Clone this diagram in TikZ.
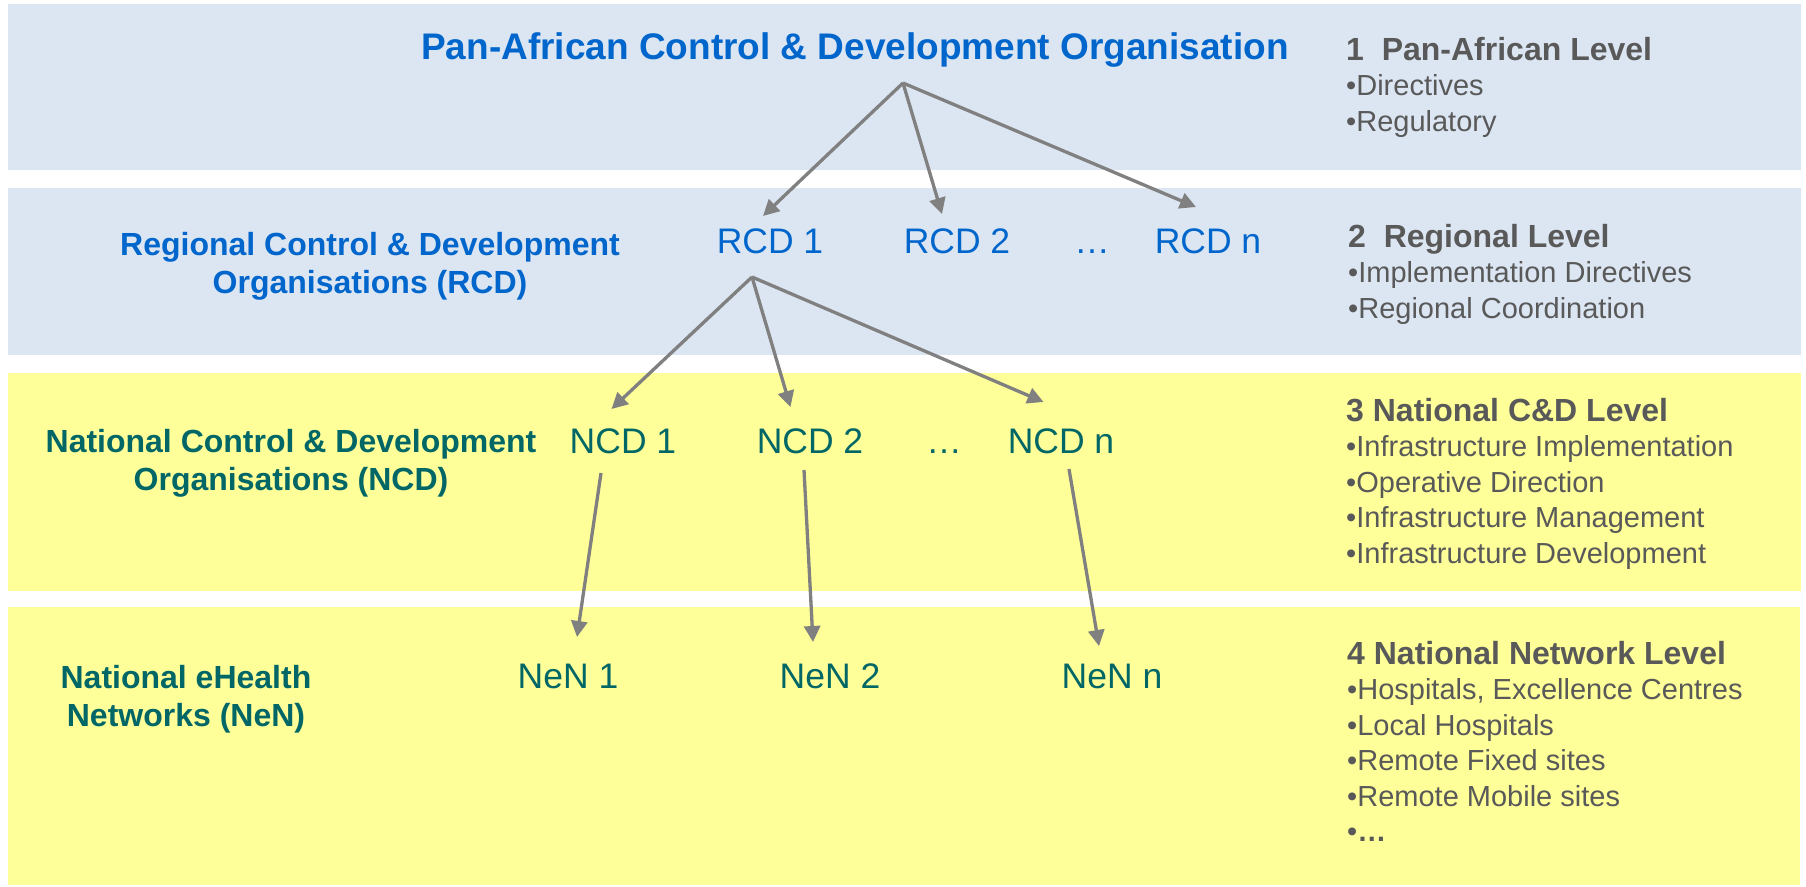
\documentclass[tikz,border=0pt]{standalone}
\usepackage{fontspec}
\setmainfont{Liberation Sans}
\usetikzlibrary{arrows.meta}
\definecolor{bandblue}{HTML}{DCE6F2}
\definecolor{bandyellow}{HTML}{FFFF99}
\definecolor{txtblue}{HTML}{0066CC}
\definecolor{txtteal}{HTML}{006666}
\definecolor{txtgray}{HTML}{595959}
\definecolor{arrowgray}{HTML}{808080}
\newcommand{\lvltitle}[1]{{\bfseries\fontsize{32}{35.5}\selectfont #1}}
\begin{document}
\begin{tikzpicture}[x=1pt,y=-1pt,
  band/.style={fill=#1, draw=none},
  unit/.style={anchor=base, inner sep=0pt, font=\fontsize{35.5}{42}\selectfont},
  grouplabel/.style={anchor=base, inner sep=0pt, font=\bfseries\fontsize{32}{38}\selectfont},
  levelbox/.style={anchor=base west, inner sep=0pt, text=txtgray, font=\fontsize{29}{35.5}\selectfont},
  link/.style={draw=arrowgray, line width=3.3pt, -{Triangle[length=16pt,width=16pt]}},
]
\useasboundingbox (0,0) rectangle (1806,886);

% bands
\path[band=bandblue]   (8,4)   rectangle (1801,170);
\path[band=bandblue]   (8,188) rectangle (1801,355);
\path[band=bandyellow] (8,373) rectangle (1801,591);
\path[band=bandyellow] (8,607) rectangle (1800,885);

% top organisation
\node[anchor=base, inner sep=0pt, text=txtblue, font=\bfseries\fontsize{37}{44}\selectfont] (pan) at (855,59) {Pan-African Control \& Development Organisation};

% group labels
\node[grouplabel, text=txtblue] (rcdlabel) at (370,255) {\begin{tabular}[t]{@{}c@{}}Regional Control \& Development\\Organisations (RCD)\end{tabular}};
\node[grouplabel, text=txtteal] (ncdlabel) at (291,452) {\begin{tabular}[t]{@{}c@{}}National Control \& Development\\Organisations (NCD)\end{tabular}};
\node[grouplabel, text=txtteal] (nenlabel) at (186,688) {\begin{tabular}[t]{@{}c@{}}National eHealth\\Networks (NeN)\end{tabular}};

% units
\node[unit, text=txtblue] (rcd1) at (770,253) {RCD 1};
\node[unit, text=txtblue] (rcd2) at (957,253) {RCD 2};
\node[unit, text=txtblue] (rcddots) at (1092,253) {…};
\node[unit, text=txtblue] (rcdn) at (1208,253) {RCD n};

\node[unit, text=txtteal] (ncd1) at (623,453) {NCD 1};
\node[unit, text=txtteal] (ncd2) at (810,453) {NCD 2};
\node[unit, text=txtteal] (ncddots) at (944,453) {…};
\node[unit, text=txtteal] (ncdn) at (1061,453) {NCD n};

\node[unit, text=txtteal] (nen1) at (568,688) {NeN 1};
\node[unit, text=txtteal] (nen2) at (830,688) {NeN 2};
\node[unit, text=txtteal] (nenn) at (1112,688) {NeN n};

% level descriptions
\node[levelbox] (lvl1) at (1346,60) {\begin{tabular}[t]{@{}l@{}}\lvltitle{1\ \ Pan-African Level}\\•Directives\\•Regulatory\end{tabular}};
\node[levelbox] (lvl2) at (1348,247) {\begin{tabular}[t]{@{}l@{}}\lvltitle{2\ \ Regional Level}\\•Implementation Directives\\•Regional Coordination\end{tabular}};
\node[levelbox] (lvl3) at (1346,421) {\begin{tabular}[t]{@{}l@{}}\lvltitle{3 National C\&D Level}\\•Infrastructure Implementation\\•Operative Direction\\•Infrastructure Management\\•Infrastructure Development\end{tabular}};
\node[levelbox] (lvl4) at (1347,664) {\begin{tabular}[t]{@{}l@{}}\lvltitle{4 National Network Level}\\•Hospitals, Excellence Centres\\•Local Hospitals\\•Remote Fixed sites\\•Remote Mobile sites\\•{\bfseries …}\end{tabular}};

% connector coordinates
\coordinate (apexA) at (903,83);
\coordinate (tipR1) at (763,216);
\coordinate (tipR2) at (942,214);
\coordinate (tipRn) at (1196,207);
\coordinate (apexB) at (752,277);
\coordinate (tipN1) at (611.5,409);
\coordinate (tipN2) at (790.5,407);
\coordinate (tipNn) at (1043.5,402);
\coordinate (srcN1) at (601,473);
\coordinate (srcN2) at (804,470);
\coordinate (srcNn) at (1069,469);
\coordinate (tipE1) at (577,637);
\coordinate (tipE2) at (813,642);
\coordinate (tipEn) at (1099,646);

% connectors
\draw[link] (apexA) -- (tipR1);
\draw[link] (apexA) -- (tipR2);
\draw[link] (apexA) -- (tipRn);
\draw[link] (apexB) -- (tipN1);
\draw[link] (apexB) -- (tipN2);
\draw[link] (apexB) -- (tipNn);
\draw[link] (srcN1) -- (tipE1);
\draw[link] (srcN2) -- (tipE2);
\draw[link] (srcNn) -- (tipEn);
\end{tikzpicture}
\end{document}
